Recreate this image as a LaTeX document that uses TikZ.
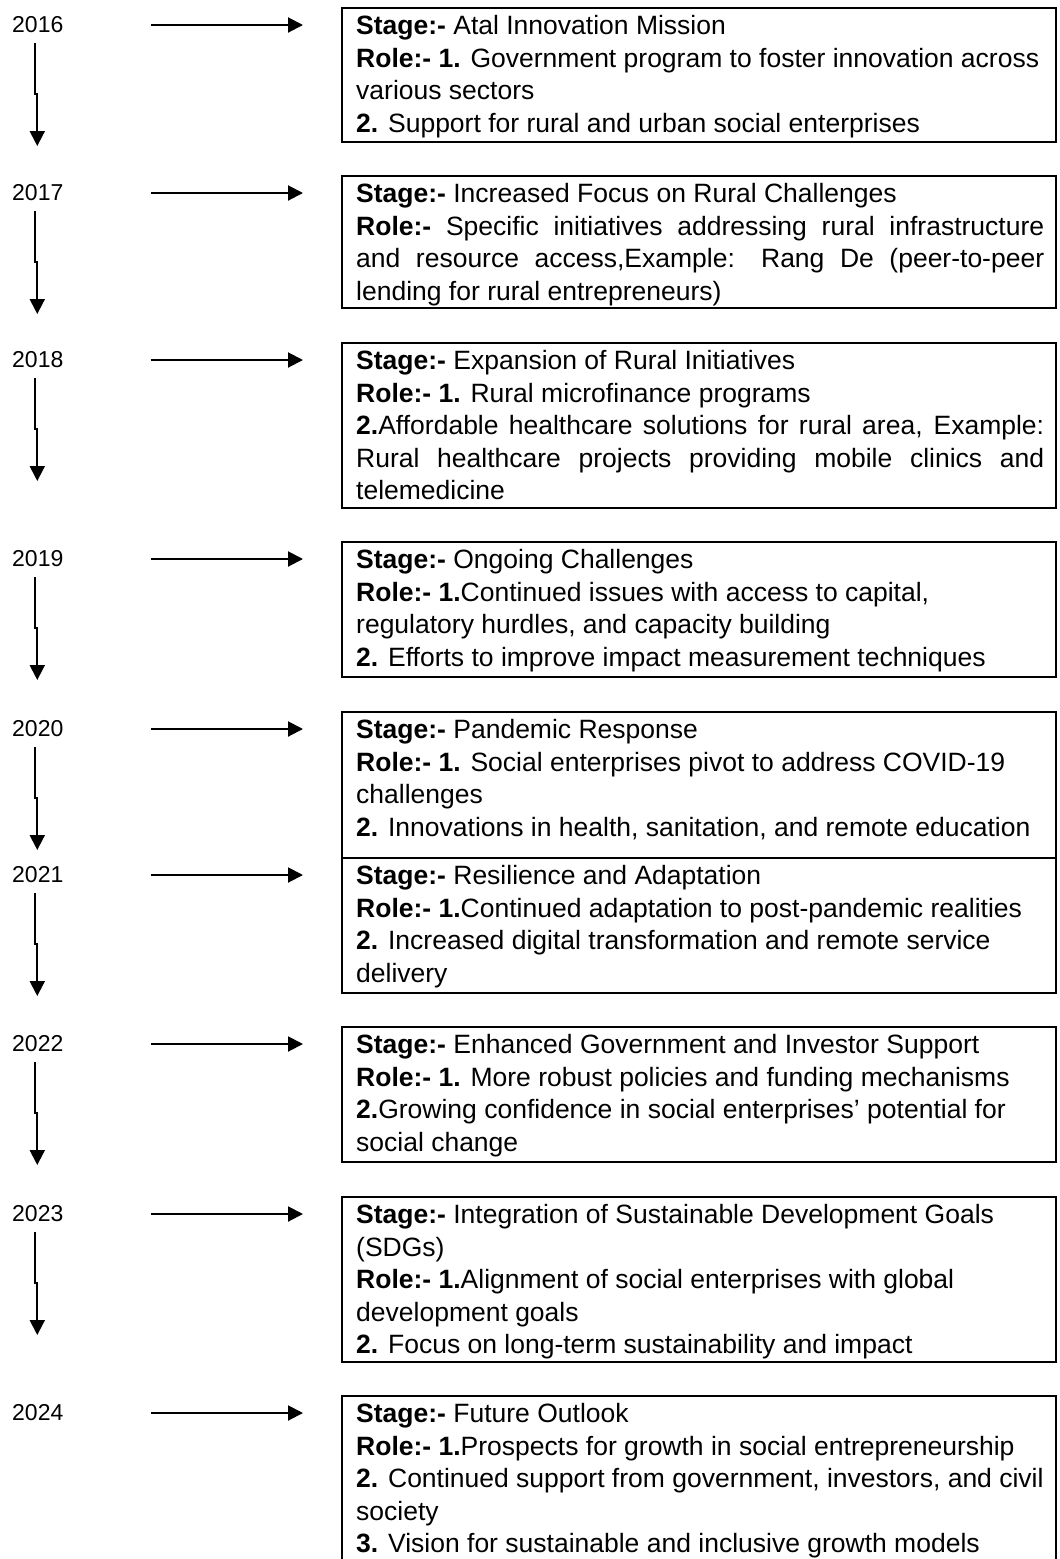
\documentclass[tikz,border=0pt]{standalone}
\usepackage{fontspec}
\setmainfont{Liberation Sans}
\usetikzlibrary{arrows.meta,calc}
\newcommand{\jline}[1]{\hbox to 688pt{#1}}
\tikzset{
  yearlbl/.style={anchor=west, inner sep=0pt, font=\fontsize{23}{27}\selectfont},
  stagebox/.style={draw, line width=1.6pt, anchor=north west, minimum width=714pt, inner sep=0pt},
  boxtext/.style={anchor=base west, inner sep=0pt, font=\fontsize{26.5}{32.6}\selectfont},
  harrow/.style={line width=2pt, -{Triangle[length=15pt,width=15pt]}, shorten <=87pt, shorten >=38pt},
  varrow/.style={line width=2pt, -{Triangle[length=15pt,width=15pt]}},
}
\newcommand{\yarrow}[1]{\draw[varrow] ($(#1.center)+(-2.5,18)$) -- ++(0,51) -- ++(2,0) -- ++(0,52);}
\begin{document}
\begin{tikzpicture}[x=1pt,y=-1pt]
\useasboundingbox (0,0) rectangle (1060,1559);

% boxes
\node[stagebox, minimum height=134pt] (b1) at (341,7) {};
\node[stagebox, minimum height=132pt] (b2) at (341,175) {};
\node[stagebox, minimum height=165pt] (b3) at (341,342) {};
\node[stagebox, minimum height=135pt] (b4) at (341,541) {};
\node[stagebox, minimum height=146pt] (b5) at (341,711) {};
\node[stagebox, minimum height=135pt] (b6) at (341,857) {};
\node[stagebox, minimum height=135pt] (b7) at (341,1026) {};
\node[stagebox, minimum height=165pt] (b8) at (341,1196) {};
\node[stagebox, minimum height=168pt] (b9) at (341,1395) {};

% years
\node[yearlbl] (y1) at (12,25) {2016};
\node[yearlbl] (y2) at (12,193) {2017};
\node[yearlbl] (y3) at (12,360) {2018};
\node[yearlbl] (y4) at (12,559) {2019};
\node[yearlbl] (y5) at (12,729) {2020};
\node[yearlbl] (y6) at (12,875) {2021};
\node[yearlbl] (y7) at (12,1044) {2022};
\node[yearlbl] (y8) at (12,1214) {2023};
\node[yearlbl] (y9) at (12,1413) {2024};

% texts
\node[boxtext] (t1) at ($(b1.north west)+(15,27.5)$) {\begin{tabular}[t]{@{}l@{}}
\textbf{Stage:-} Atal Innovation Mission\\
\textbf{Role:- 1.} Government program to foster innovation across\\
various sectors\\
\textbf{2.} Support for rural and urban social enterprises
\end{tabular}};
\node[boxtext] (t2) at ($(b2.north west)+(15,27.5)$) {\begin{tabular}[t]{@{}l@{}}
\textbf{Stage:-} Increased Focus on Rural Challenges\\
\jline{\textbf{Role:-} Specific initiatives addressing rural infrastructure}\\
\jline{and resource access,Example: Rang De (peer-to-peer}\\
lending for rural entrepreneurs)
\end{tabular}};
\node[boxtext] (t3) at ($(b3.north west)+(15,27.5)$) {\begin{tabular}[t]{@{}l@{}}
\textbf{Stage:-} Expansion of Rural Initiatives\\
\textbf{Role:- 1.} Rural microfinance programs\\
\jline{\textbf{2.}Affordable healthcare solutions for rural area, Example:}\\
\jline{Rural healthcare projects providing mobile clinics and}\\
telemedicine
\end{tabular}};
\node[boxtext] (t4) at ($(b4.north west)+(15,27.5)$) {\begin{tabular}[t]{@{}l@{}}
\textbf{Stage:-} Ongoing Challenges\\
\textbf{Role:- 1.}Continued issues with access to capital,\\
regulatory hurdles, and capacity building\\
\textbf{2.} Efforts to improve impact measurement techniques
\end{tabular}};
\node[boxtext] (t5) at ($(b5.north west)+(15,27.5)$) {\begin{tabular}[t]{@{}l@{}}
\textbf{Stage:-} Pandemic Response\\
\textbf{Role:- 1.} Social enterprises pivot to address COVID-19\\
challenges\\
\textbf{2.} Innovations in health, sanitation, and remote education
\end{tabular}};
\node[boxtext] (t6) at ($(b6.north west)+(15,27.5)$) {\begin{tabular}[t]{@{}l@{}}
\textbf{Stage:-} Resilience and Adaptation\\
\textbf{Role:- 1.}Continued adaptation to post-pandemic realities\\
\textbf{2.} Increased digital transformation and remote service\\
delivery
\end{tabular}};
\node[boxtext] (t7) at ($(b7.north west)+(15,27.5)$) {\begin{tabular}[t]{@{}l@{}}
\textbf{Stage:-} Enhanced Government and Investor Support\\
\textbf{Role:- 1.} More robust policies and funding mechanisms\\
\textbf{2.}Growing confidence in social enterprises’ potential for\\
social change
\end{tabular}};
\node[boxtext] (t8) at ($(b8.north west)+(15,27.5)$) {\begin{tabular}[t]{@{}l@{}}
\textbf{Stage:-} Integration of Sustainable Development Goals\\
(SDGs)\\
\textbf{Role:- 1.}Alignment of social enterprises with global\\
development goals\\
\textbf{2.} Focus on long-term sustainability and impact
\end{tabular}};
\node[boxtext] (t9) at ($(b9.north west)+(15,27.5)$) {\begin{tabular}[t]{@{}l@{}}
\textbf{Stage:-} Future Outlook\\
\textbf{Role:- 1.}Prospects for growth in social entrepreneurship\\
\textbf{2.} Continued support from government, investors, and civil\\
society\\
\textbf{3.} Vision for sustainable and inclusive growth models
\end{tabular}};

% horizontal arrows
\foreach \i in {1,...,9} {
  \draw[harrow] (y\i.east) -- (b\i.west |- y\i.east);
}
% vertical arrows
\foreach \i in {1,...,8} {
  \yarrow{y\i}
}
\end{tikzpicture}
\end{document}
